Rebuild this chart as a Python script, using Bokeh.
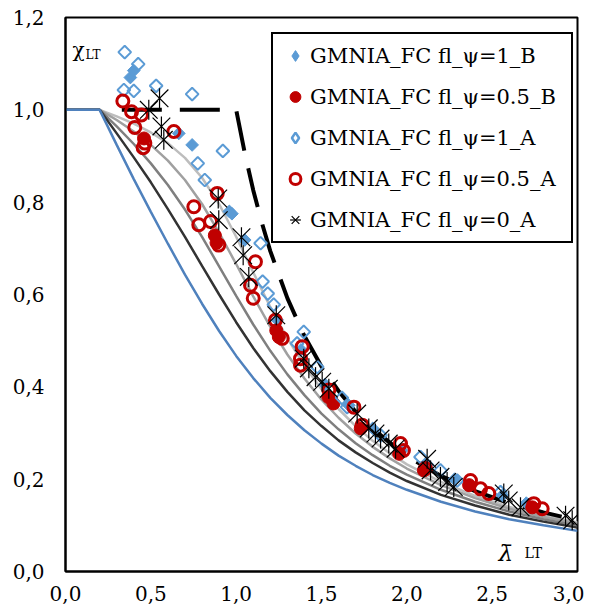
import math
from bokeh.plotting import figure
from bokeh.models import (Range1d, FixedTicker, CustomJSTickFormatter, Legend,
                          LegendItem, Label)
from bokeh.embed import file_html
from bokeh.resources import INLINE

# ---------------- data ----------------
x_ticks = [0.0, 0.5, 1.0, 1.5, 2.0, 2.5, 3.0]
y_ticks = [0.0, 0.2, 0.4, 0.6, 0.8, 1.0, 1.2]

lam_curve = [0.0, 0.2, 0.3, 0.4, 0.5, 0.6, 0.7, 0.8, 0.9, 1.0, 1.1, 1.2, 1.3,
             1.4, 1.5, 1.6, 1.7, 1.8, 1.9, 2.0, 2.2, 2.4, 2.6, 2.8, 3.0]
chi_a0 = [1.0, 1.0, 0.986, 0.970, 0.951, 0.928, 0.896, 0.853, 0.796, 0.725,
          0.648, 0.573, 0.505, 0.446, 0.395, 0.352, 0.315, 0.283, 0.256,
          0.232, 0.194, 0.164, 0.140, 0.122, 0.106]
chi_a = [1.0, 1.0, 0.978, 0.953, 0.924, 0.890, 0.848, 0.796, 0.734, 0.666,
         0.596, 0.530, 0.470, 0.418, 0.372, 0.333, 0.299, 0.270, 0.245,
         0.223, 0.187, 0.159, 0.136, 0.118, 0.104]
chi_b = [1.0, 1.0, 0.964, 0.926, 0.884, 0.837, 0.784, 0.725, 0.661, 0.597,
         0.535, 0.478, 0.427, 0.382, 0.342, 0.308, 0.278, 0.252, 0.229,
         0.210, 0.177, 0.151, 0.130, 0.113, 0.099]
chi_c = [1.0, 1.0, 0.949, 0.897, 0.843, 0.785, 0.725, 0.662, 0.600, 0.540,
         0.484, 0.434, 0.389, 0.349, 0.315, 0.284, 0.258, 0.235, 0.214,
         0.196, 0.166, 0.143, 0.123, 0.108, 0.095]
chi_d = [1.0, 1.0, 0.924, 0.850, 0.779, 0.710, 0.643, 0.580, 0.521, 0.467,
         0.419, 0.376, 0.339, 0.306, 0.277, 0.251, 0.229, 0.209, 0.192,
         0.177, 0.151, 0.130, 0.113, 0.100, 0.088]

lam_euler = [0.33, 1.0, 1.05, 1.1, 1.15, 1.2, 1.3, 1.4, 1.5, 1.6, 1.7, 1.8,
             2.0, 2.2, 2.4, 2.6, 2.8, 3.0]
chi_euler = [1.0, 1.0, 0.907, 0.826, 0.756, 0.694, 0.592, 0.510, 0.444,
             0.391, 0.346, 0.309, 0.250, 0.207, 0.174, 0.148, 0.128, 0.111]

psi1_B_x = [0.38, 0.40, 0.664, 0.742, 0.96, 0.975, 1.05, 1.24, 1.38, 1.52,
            1.66, 1.80, 1.97, 2.12, 2.28, 2.56, 2.70]
psi1_B_y = [1.07, 1.085, 0.949, 0.924, 0.78, 0.775, 0.718, 0.545, 0.48,
            0.405, 0.36, 0.31, 0.262, 0.232, 0.20, 0.165, 0.148]

psi05_B_x = [0.46, 0.875, 0.885, 1.235, 1.25, 1.54, 1.57, 1.73, 1.955, 2.10,
             2.365, 2.735]
psi05_B_y = [0.938, 0.728, 0.712, 0.522, 0.508, 0.378, 0.364, 0.31, 0.255,
             0.219, 0.187, 0.139]

psi1_A_x = [0.347, 0.426, 0.342, 0.40, 0.531, 0.742, 0.922, 0.775, 0.816,
            1.143, 1.155, 1.185, 1.22, 1.396, 1.357, 1.475, 1.62, 1.65,
            1.846, 2.08, 2.197, 2.295, 2.549]
psi1_A_y = [1.125, 1.099, 1.043, 1.041, 1.052, 1.034, 0.911, 0.884, 0.848,
            0.711, 0.628, 0.602, 0.578, 0.519, 0.494, 0.443, 0.376, 0.356,
            0.295, 0.248, 0.219, 0.197, 0.172]

psi05_A_x = [0.336, 0.387, 0.445, 0.406, 0.635, 0.465, 0.455, 0.889, 0.752,
             0.781, 0.85, 0.898, 1.113, 1.084, 1.10, 1.23, 1.27, 1.387,
             1.377, 1.377, 1.543, 1.69, 1.738, 1.963, 1.98, 2.109, 2.373,
             2.432, 2.48, 2.744, 2.793]
psi05_A_y = [1.019, 0.996, 0.989, 0.962, 0.953, 0.928, 0.918, 0.819, 0.79,
             0.751, 0.758, 0.707, 0.671, 0.62, 0.592, 0.544, 0.505, 0.487,
             0.461, 0.447, 0.393, 0.356, 0.317, 0.277, 0.262, 0.223, 0.197,
             0.179, 0.169, 0.147, 0.136]

psi0_A_x = [0.551, 0.488, 0.562, 0.576, 0.895, 0.898, 1.031, 1.041, 1.074,
            1.235, 1.396, 1.426, 1.465, 1.504, 1.543, 1.709, 1.777, 1.816,
            1.846, 1.894, 1.934, 2.119, 2.139, 2.197, 2.236, 2.275, 2.568,
            2.597, 2.666, 2.93, 2.969]
psi0_A_y = [1.025, 1.0, 0.964, 0.935, 0.808, 0.761, 0.724, 0.685, 0.638,
            0.555, 0.461, 0.44, 0.421, 0.411, 0.396, 0.342, 0.31, 0.299,
            0.288, 0.277, 0.266, 0.244, 0.219, 0.205, 0.194, 0.183, 0.169,
            0.154, 0.139, 0.121, 0.111]

labels = ["GMNIA_FC fl_\u03c8=1_B", "GMNIA_FC fl_\u03c8=0.5_B",
          "GMNIA_FC fl_\u03c8=1_A", "GMNIA_FC fl_\u03c8=0.5_A",
          "GMNIA_FC fl_\u03c8=0_A"]

# ---------------- figure ----------------
FONT = "DejaVu Serif"
BLUE_M = "#5B9BD5"
RED = "#C00000"
NAN = float("nan")

p = figure(width=584, height=610, output_backend="svg", toolbar_location=None,
           x_range=Range1d(0, 3), y_range=Range1d(0, 1.2),
           min_border_left=65, min_border_right=7, min_border_top=17,
           min_border_bottom=39)
p.xgrid.visible = False
p.ygrid.visible = False
p.outline_line_color = "black"
p.outline_line_width = 2
p.outline_line_alpha = 1.0
p.background_fill_color = "white"

fmt = CustomJSTickFormatter(code="return tick.toFixed(1).replace('.', ',');")
p.xaxis.ticker = FixedTicker(ticks=x_ticks)
p.yaxis.ticker = FixedTicker(ticks=y_ticks)
for ax in (p.xaxis, p.yaxis):
    ax.formatter = fmt
    ax.axis_line_color = "black"
    ax.axis_line_width = 2
    ax.major_tick_out = 0
    ax.major_tick_in = 0
    ax.minor_tick_out = 0
    ax.minor_tick_in = 0
    ax.major_label_text_font = FONT
    ax.major_label_text_font_size = "20px"
    ax.major_label_text_color = "black"
p.yaxis.major_label_standoff = 21
p.xaxis.major_label_standoff = 14

# buckling curves
p.line(lam_curve, chi_a0, line_color="#BDBDBD", line_width=2.5)
p.line(lam_curve, chi_a, line_color="#A0A0A0", line_width=2.5)
p.line(lam_curve, chi_b, line_color="#7F7F7F", line_width=2.5)
p.line(lam_curve, chi_c, line_color="#333333", line_width=2.5)
p.line(lam_curve, chi_d, line_color="#4F81BD", line_width=2.5)

# plateau / Euler dashed line
p.line(lam_euler, chi_euler, line_color="black", line_width=4,
       line_dash="40 18")

# scatter series
r1 = p.scatter(psi1_B_x, psi1_B_y, marker="square", angle=math.pi / 4,
               size=9, fill_color=BLUE_M, line_color=BLUE_M, line_width=1)
r2 = p.scatter(psi05_B_x, psi05_B_y, marker="circle", size=13,
               fill_color=RED, line_color=RED, line_width=1)
r3 = p.scatter(psi1_A_x, psi1_A_y, marker="square", angle=math.pi / 4,
               size=9, fill_alpha=0, line_color=BLUE_M, line_width=2)
r4 = p.scatter(psi05_A_x, psi05_A_y, marker="circle", size=12,
               fill_alpha=0, line_color=RED, line_width=3)
r5a = p.scatter(psi0_A_x, psi0_A_y, marker="x", size=25,
                line_color="black", line_width=1.2)
r5b = p.scatter(psi0_A_x, psi0_A_y, marker="dash", angle=math.pi / 2,
                size=20, line_color="black", line_width=1.2)

# legend-only glyphs (a single NaN point, never drawn in the plot)
l1 = p.scatter(x=[NAN], y=[NAN], marker="diamond", size=15,
               fill_color=BLUE_M, line_color=BLUE_M, line_width=1)
l3 = p.scatter(x=[NAN], y=[NAN], marker="diamond", size=14, fill_alpha=0,
               line_color=BLUE_M, line_width=2.5)
l5a = p.scatter(x=[NAN], y=[NAN], marker="x", size=22, line_color="black",
                line_width=1.2)
l5b = p.scatter(x=[NAN], y=[NAN], marker="dash", angle=math.pi / 2, size=17,
                line_color="black", line_width=1.2)

legend = Legend(items=[
    LegendItem(label=labels[0], renderers=[l1]),
    LegendItem(label=labels[1], renderers=[r2]),
    LegendItem(label=labels[2], renderers=[l3]),
    LegendItem(label=labels[3], renderers=[r4]),
    LegendItem(label=labels[4], renderers=[l5a, l5b]),
], location=(206, 328))
legend.border_line_color = "black"
legend.border_line_width = 2
legend.border_line_alpha = 1.0
legend.background_fill_color = "white"
legend.background_fill_alpha = 1.0
legend.label_text_font = FONT
legend.label_text_font_size = "21px"
legend.label_text_color = "black"
legend.padding = 8
legend.spacing = 14
legend.glyph_width = 28
legend.glyph_height = 27
legend.label_height = 27
legend.label_width = 253
legend.label_standoff = 1
legend.margin = 0
p.add_layout(legend)

# axis titles drawn inside the plot
p.add_layout(Label(x=0.041, y=1.130, text="\u03c7", text_font=FONT,
                   text_font_size="20px", text_baseline="alphabetic",
                   text_color="black"))
p.add_layout(Label(x=0.117, y=1.119, text="LT", text_font=FONT,
                   text_font_size="12px", text_baseline="alphabetic",
                   text_color="black"))
p.add_layout(Label(x=2.537, y=0.039, text="\u03bb\u0304", text_font=FONT,
                   text_font_size="23px", text_font_style="italic",
                   text_baseline="alphabetic", text_color="black"))
p.add_layout(Label(x=2.69, y=0.039, text="LT", text_font=FONT,
                   text_font_size="14px", text_baseline="alphabetic",
                   text_color="black"))

open("out.html", "w").write(file_html(p, INLINE))
